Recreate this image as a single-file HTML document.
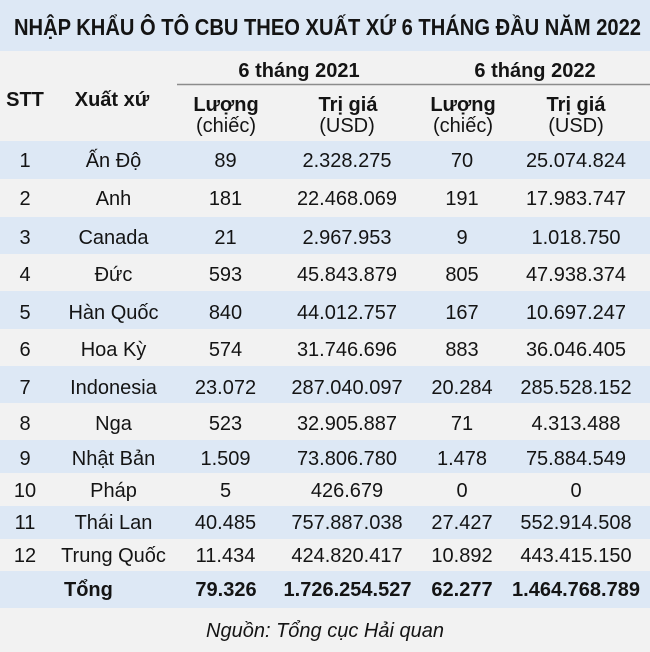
<!DOCTYPE html>
<html>
<head>
<meta charset="utf-8">
<style>
  html,body{margin:0;padding:0;background:#f2f2f2;}
  svg{display:block;}
  text{font-family:"Liberation Sans","DejaVu Sans",sans-serif;fill:#141414;}
  .b{font-weight:bold;}
  .d{font-size:20px;}
</style>
</head>
<body>
<svg width="650" height="652" viewBox="0 0 650 652" xmlns="http://www.w3.org/2000/svg">
  <!-- backgrounds -->
  <rect x="0" y="0" width="650" height="652" fill="#f2f2f2"/>
  <rect x="0" y="0" width="650" height="51" fill="#dde8f5"/>
  <rect x="0" y="141" width="650" height="38" fill="#dde8f5"/>
  <rect x="0" y="217" width="650" height="37" fill="#dde8f5"/>
  <rect x="0" y="291" width="650" height="38" fill="#dde8f5"/>
  <rect x="0" y="366" width="650" height="37" fill="#dde8f5"/>
  <rect x="0" y="440" width="650" height="33" fill="#dde8f5"/>
  <rect x="0" y="506" width="650" height="33" fill="#dde8f5"/>
  <rect x="0" y="571" width="650" height="37" fill="#dde8f5"/>

  <!-- title -->
  <text x="14" y="35" class="b" font-size="23" textLength="627" lengthAdjust="spacingAndGlyphs">NHẬP KHẨU Ô TÔ CBU THEO XUẤT XỨ 6 THÁNG ĐẦU NĂM 2022</text>

  <!-- header -->
  <g class="b" font-size="20" text-anchor="middle">
    <text x="299" y="77">6 tháng 2021</text>
    <text x="535" y="77">6 tháng 2022</text>
    <text x="25" y="106">STT</text>
    <text x="112" y="106">Xuất xứ</text>
    <text x="226" y="111">Lượng</text>
    <text x="348" y="111">Trị giá</text>
    <text x="463" y="111">Lượng</text>
    <text x="576" y="111">Trị giá</text>
  </g>
  <line x1="177" y1="84.5" x2="650" y2="84.5" stroke="#8c8c8c" stroke-width="1.5"/>
  <g font-size="20" text-anchor="middle">
    <text x="226" y="132">(chiếc)</text>
    <text x="347" y="132">(USD)</text>
    <text x="463" y="132">(chiếc)</text>
    <text x="576" y="132">(USD)</text>
  </g>

  <!-- data rows -->
  <g class="d" text-anchor="middle">
    <g transform="translate(0,167)">
      <text x="25">1</text><text x="113.5">Ấn Độ</text><text x="225.5">89</text><text x="347">2.328.275</text><text x="462">70</text><text x="576">25.074.824</text>
    </g>
    <g transform="translate(0,205)">
      <text x="25">2</text><text x="113.5">Anh</text><text x="225.5">181</text><text x="347">22.468.069</text><text x="462">191</text><text x="576">17.983.747</text>
    </g>
    <g transform="translate(0,244)">
      <text x="25">3</text><text x="113.5">Canada</text><text x="225.5">21</text><text x="347">2.967.953</text><text x="462">9</text><text x="576">1.018.750</text>
    </g>
    <g transform="translate(0,281)">
      <text x="25">4</text><text x="113.5">Đức</text><text x="225.5">593</text><text x="347">45.843.879</text><text x="462">805</text><text x="576">47.938.374</text>
    </g>
    <g transform="translate(0,319)">
      <text x="25">5</text><text x="113.5">Hàn Quốc</text><text x="225.5">840</text><text x="347">44.012.757</text><text x="462">167</text><text x="576">10.697.247</text>
    </g>
    <g transform="translate(0,356)">
      <text x="25">6</text><text x="113.5">Hoa Kỳ</text><text x="225.5">574</text><text x="347">31.746.696</text><text x="462">883</text><text x="576">36.046.405</text>
    </g>
    <g transform="translate(0,394)">
      <text x="25">7</text><text x="113.5">Indonesia</text><text x="225.5">23.072</text><text x="347">287.040.097</text><text x="462">20.284</text><text x="576">285.528.152</text>
    </g>
    <g transform="translate(0,430)">
      <text x="25">8</text><text x="113.5">Nga</text><text x="225.5">523</text><text x="347">32.905.887</text><text x="462">71</text><text x="576">4.313.488</text>
    </g>
    <g transform="translate(0,465)">
      <text x="25">9</text><text x="113.5">Nhật Bản</text><text x="225.5">1.509</text><text x="347">73.806.780</text><text x="462">1.478</text><text x="576">75.884.549</text>
    </g>
    <g transform="translate(0,497)">
      <text x="25">10</text><text x="113.5">Pháp</text><text x="225.5">5</text><text x="347">426.679</text><text x="462">0</text><text x="576">0</text>
    </g>
    <g transform="translate(0,529)">
      <text x="25">11</text><text x="113.5">Thái Lan</text><text x="225.5">40.485</text><text x="347">757.887.038</text><text x="462">27.427</text><text x="576">552.914.508</text>
    </g>
    <g transform="translate(0,562)">
      <text x="25">12</text><text x="113.5">Trung Quốc</text><text x="225.5">11.434</text><text x="347">424.820.417</text><text x="462">10.892</text><text x="576">443.415.150</text>
    </g>
  </g>

  <!-- total -->
  <g class="b" font-size="20">
    <text x="64" y="596">Tổng</text>
    <g text-anchor="middle">
      <text x="226" y="596">79.326</text>
      <text x="347.5" y="596">1.726.254.527</text>
      <text x="462" y="596">62.277</text>
      <text x="576" y="596">1.464.768.789</text>
    </g>
  </g>

  <!-- source -->
  <text x="325" y="637" font-size="20" font-style="italic" text-anchor="middle">Nguồn: Tổng cục Hải quan</text>
</svg>
</body>
</html>
